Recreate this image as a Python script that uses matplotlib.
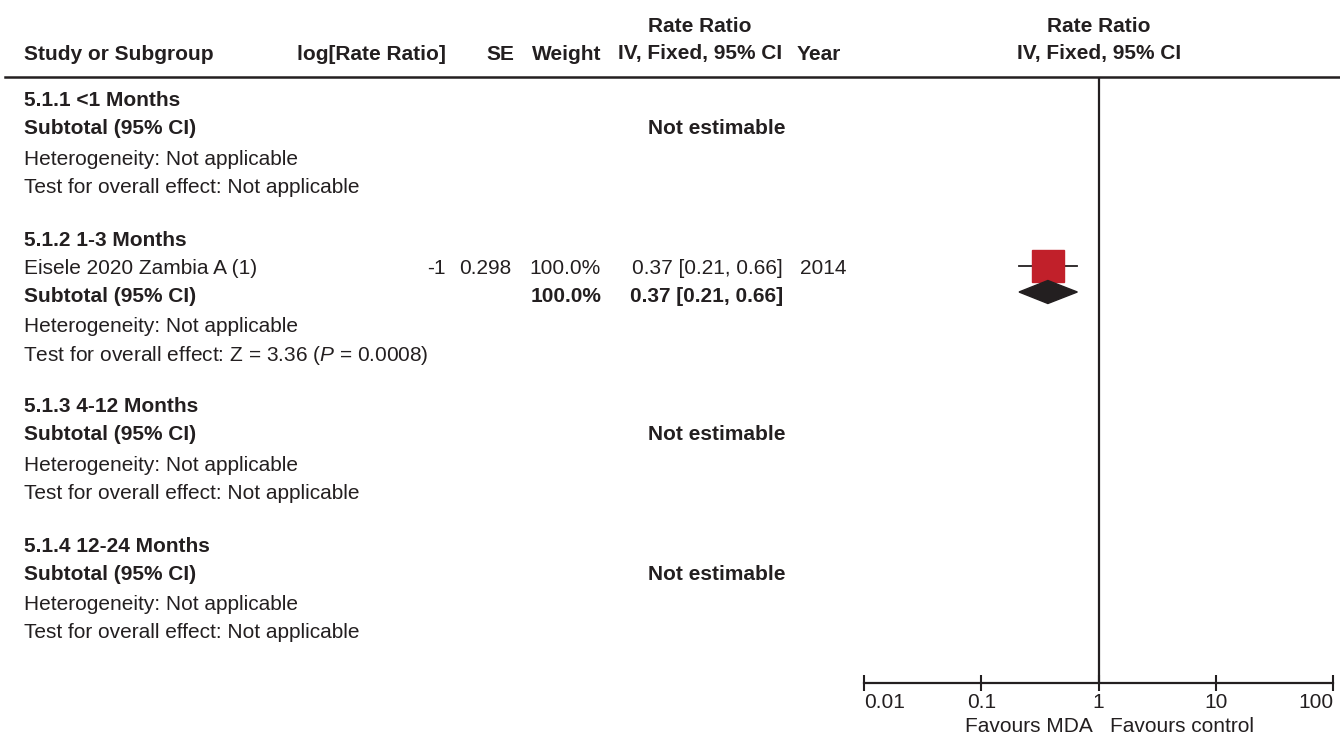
import matplotlib
matplotlib.use("Agg")
import matplotlib.pyplot as plt
from matplotlib.patches import Polygon

plt.rcParams["font.family"] = ["Liberation Sans", "DejaVu Sans"]
plt.rcParams["mathtext.fontset"] = "custom"
plt.rcParams["mathtext.it"] = "Liberation Sans:italic"
plt.rcParams["mathtext.rm"] = "Liberation Sans"

# data
subgroups = ["5.1.1 <1 Months", "5.1.2 1-3 Months", "5.1.3 4-12 Months", "5.1.4 12-24 Months"]
study_names = [[], ["Eisele 2020 Zambia A (1)"], [], []]
log_rr = [[], [-1], [], []]
se = [[], [0.298], [], []]
weights = [[], [100.0], [], []]
rr = [[], [0.37], [], []]
rr_lo = [[], [0.21], [], []]
rr_hi = [[], [0.66], [], []]
years = [[], [2014], [], []]
sub_rr = [None, 0.37, None, None]
sub_lo = [None, 0.21, None, None]
sub_hi = [None, 0.66, None, None]
z_vals = [None, "3.36", None, None]
p_vals = [None, "0.0008", None, None]
xticks = [0.01, 0.1, 1, 10, 100]
xtick_labels = ["0.01", "0.1", "1", "10", "100"]

W, H = 1340, 736
txt = "#231f20"
red = "#c1202a"
fs = 15
dy = 2  # small shift so text centres sit on the row

fig = plt.figure(figsize=(W / 100, H / 100), dpi=100)
ax = fig.add_axes([0, 0, 1, 1])
ax.set_xlim(0, W)
ax.set_ylim(H, 0)
ax.axis("off")

# forest panel
axis_y, top_y = 683, 77
left_px, right_px = 864, 1333
axf = fig.add_axes([left_px / W, (H - axis_y) / H, (right_px - left_px) / W, (axis_y - top_y) / H])
axf.set_xscale("log")
axf.set_xlim(0.01, 100)
axf.set_ylim(axis_y, top_y)
axf.patch.set_alpha(0)
for s in ["top", "left", "right"]:
    axf.spines[s].set_visible(False)
axf.spines["bottom"].set_linewidth(1.6)
axf.spines["bottom"].set_color(txt)
axf.set_yticks([])
axf.set_xticks(xticks)
axf.set_xticklabels(xtick_labels)
axf.minorticks_off()
axf.tick_params(axis="x", direction="inout", length=12, width=1.5, color=txt,
                labelsize=fs, labelcolor=txt, pad=1)
tl = axf.get_xticklabels()
tl[0].set_ha("left")
tl[-1].set_ha("right")
axf.axvline(1, color=txt, lw=1.6)

# header
ax.plot([5, W], [top_y, top_y], color=txt, lw=1.8)
hb = dict(fontsize=fs, fontweight="bold", color=txt, va="center")
ax.text(24, 52 + dy, "Study or Subgroup", ha="left", **hb)
ax.text(446, 52 + dy, "log[Rate Ratio]", ha="right", **hb)
ax.text(514, 52 + dy, "SE", ha="right", **hb)
ax.text(601, 52 + dy, "Weight", ha="right", **hb)
ax.text(700, 24 + dy, "Rate Ratio", ha="center", **hb)
ax.text(700, 52 + dy, "IV, Fixed, 95% CI", ha="center", **hb)
ax.text(797, 52 + dy, "Year", ha="left", **hb)
ax.text(1099, 24 + dy, "Rate Ratio", ha="center", **hb)
ax.text(1099, 52 + dy, "IV, Fixed, 95% CI", ha="center", **hb)

nb = dict(fontsize=fs, color=txt, va="center")
y = 99
for g, name in enumerate(subgroups):
    ax.text(24, y + dy, name, ha="left", **hb)
    for i, st in enumerate(study_names[g]):
        y += 28
        ax.text(24, y + dy, st, ha="left", **nb)
        ax.text(446, y + dy, f"{log_rr[g][i]:g}", ha="right", **nb)
        ax.text(511, y + dy, f"{se[g][i]:g}", ha="right", **nb)
        ax.text(601, y + dy, f"{weights[g][i]:.1f}%", ha="right", **nb)
        ax.text(783, y + dy, f"{rr[g][i]:.2f} [{rr_lo[g][i]:.2f}, {rr_hi[g][i]:.2f}]", ha="right", **nb)
        ax.text(800, y + dy, str(years[g][i]), ha="left", **nb)
        axf.plot([rr_lo[g][i], rr_hi[g][i]], [y, y], color=txt, lw=1.3, zorder=2)
        axf.plot([rr[g][i]], [y], marker="s", ms=23, color=red, mec=red, zorder=3)
    y += 28
    ax.text(24, y + dy, "Subtotal (95% CI)", ha="left", **hb)
    if sub_rr[g] is None:
        ax.text(785, y + dy, "Not estimable", ha="right", **hb)
    else:
        tot = sum(weights[g])
        ax.text(601, y + dy, f"{tot:.1f}%", ha="right", **hb)
        ax.text(783, y + dy, f"{sub_rr[g]:.2f} [{sub_lo[g]:.2f}, {sub_hi[g]:.2f}]", ha="right", **hb)
        dh = 11.5
        axf.add_patch(Polygon([(sub_lo[g], y - 2), (sub_rr[g], y - 2 - dh), (sub_hi[g], y - 2), (sub_rr[g], y - 2 + dh)],
                              closed=True, color=txt, zorder=4))
    y += 30.5
    ax.text(24, y + dy, "Heterogeneity: Not applicable", ha="left", **nb)
    y += 28
    if z_vals[g] is None:
        ax.text(24, y + dy, "Test for overall effect: Not applicable", ha="left", **nb)
    else:
        ax.text(23, y + dy + 1, f"Test for overall effect: Z = {z_vals[g]} ($\\mathit{{P}}$ = {p_vals[g]})", ha="left", **nb)
    y += 52.5

ax.text(1093, 724 + dy, "Favours MDA", ha="right", **nb)
ax.text(1110, 724 + dy, "Favours control", ha="left", **nb)

fig.savefig("out.png", dpi=100)
